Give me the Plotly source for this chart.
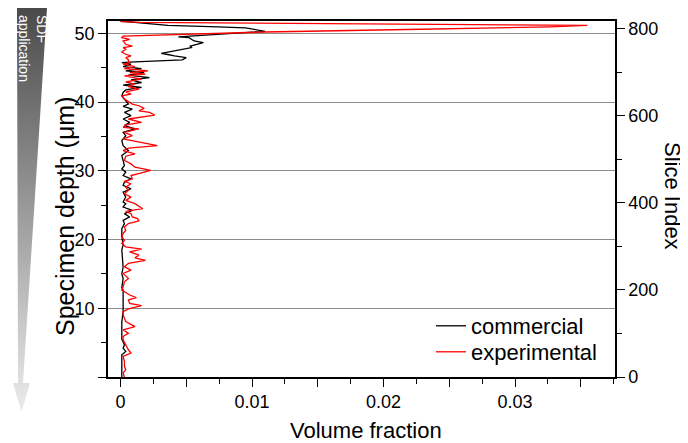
import plotly.graph_objects as go

W, H = 688, 443
OFF = 8  # the page places the figure 8 px from the window's top-left corner
# plot-area edges in window pixels (left, right, top, bottom)
PL, PR, PT, PB = 108, 615, 21, 377

# ---------------- data ----------------
depth_commercial = [
    51.8, 51.15, 50.95, 50.8, 50.3, 49.5, 49.37, 48.89, 48.65, 48.41, 48.16, 47.92,
    47.44, 47.10, 46.96, 46.71, 46.47, 46.14, 45.85, 45.75, 45.51, 45.17, 44.88,
    44.54, 44.30, 43.91, 43.57, 43.24, 42.85, 42.46, 42.13, 41.79, 41.40, 40.92,
    40.43, 39.71, 39.37, 38.99, 38.50, 38.02, 37.54, 37.05, 36.57, 36.09, 35.60,
    35.12, 34.40, 33.67, 32.95, 32.22, 31.50, 30.77, 30.29, 29.81, 29.32, 28.84,
    28.36, 27.87, 27.39, 26.91, 26.18, 25.46, 25.22, 24.73, 24.25, 23.77, 23.29,
    22.80, 22.32, 21.59, 20.50, 19.18, 18.50, 16.00, 15.00, 14.35, 13.00, 12.66,
    10.72, 9.52, 8.00, 5.50, 4.69, 4.20, 3.72, 3.24, 2.00, 0.00,
]
vf_commercial = [
    0.0000, 0.0036, 0.0074, 0.0095, 0.0110, 0.0044, 0.0052, 0.0056, 0.0063, 0.0058, 0.0053, 0.0054,
    0.0041, 0.0031, 0.0035, 0.0041, 0.0050, 0.0047, 0.0011, 0.0001, 0.0008, 0.0002, 0.0016,
    0.0004, 0.0018, 0.0006, 0.0022, 0.0008, 0.0016, 0.0002, 0.0016, 0.0004, 0.0002, 0.0001,
    0.0003, 0.0006, 0.0002, 0.0009, 0.0003, 0.0008, 0.0002, 0.0007, 0.0003, 0.0011, 0.0002,
    0.0004, 0.0001, 0.0002, 0.0006, 0.0001, 0.0002, 0.0003, 0.0001, 0.0004, 0.0002, 0.0008,
    0.0003, 0.0002, 0.0008, 0.0002, 0.0004, 0.0002, 0.0004, 0.0002, 0.0009, 0.0003, 0.0007,
    0.0002, 0.0003, 0.0001, 0.0001, 0.0002, 0.0001, 0.0002, 0.0001, 0.0002, 0.0001, 0.0002,
    0.0002, 0.0002, 0.0001, 0.0001, 0.0003, 0.0002, 0.0004, 0.0001, 0.0001, 0.0001,
]

depth_experimental = [
    51.7, 51.6, 51.15, 50.95, 50.6, 50.2, 49.6, 49.37, 49.13, 48.89, 48.41, 48.16,
    47.92, 47.68, 47.29, 46.96, 46.71, 46.47, 46.14, 45.85, 45.75, 45.51, 45.17,
    44.88, 44.54, 44.30, 44.06, 43.82, 43.33, 42.95, 42.61, 42.27, 41.88, 41.50,
    41.16, 40.92, 40.43, 39.71, 39.47, 39.08, 38.74, 38.50, 38.12, 37.92, 37.54,
    37.05, 36.67, 36.33, 36.09, 35.60, 35.12, 34.64, 34.16, 33.67, 33.29, 32.95,
    32.46, 32.13, 31.50, 31.01, 30.53, 30.05, 29.71, 29.32, 28.84, 28.45, 28.12,
    27.63, 27.15, 26.67, 26.18, 25.70, 25.22, 24.49, 24.11, 23.77, 23.29, 23.04,
    22.71, 22.32, 21.84, 21.35, 20.87, 20.39, 19.90, 19.42, 18.94, 18.60, 18.21,
    17.73, 17.34, 16.96, 16.52, 16.04, 15.56, 15.07, 14.35, 13.86, 13.14, 12.66,
    11.93, 11.55, 11.21, 10.72, 10.39, 9.90, 9.52, 9.03, 8.55, 8.07, 7.34, 6.86,
    6.38, 5.89, 5.41, 4.69, 3.96, 3.48, 3.00, 2.27, 1.55, 1.06, 0.58, 0.00,
]
vf_experimental = [
    0.0000, 0.0015, 0.0355, 0.0327, 0.0228, 0.0110, 0.0002, 0.0001, 0.0007, 0.0002, 0.0004, 0.0009,
    0.0002, 0.0004, 0.0001, 0.0004, 0.0008, 0.0004, 0.0006, 0.0006, 0.0007, 0.0002, 0.0011,
    0.0003, 0.0021, 0.0007, 0.0019, 0.0003, 0.0016, 0.0004, 0.0011, 0.0006, 0.0014, 0.0004,
    0.0008, 0.0001, 0.0003, 0.0009, 0.0014, 0.0018, 0.0014, 0.0022, 0.0026, 0.0018, 0.0006,
    0.0016, 0.0004, 0.0002, 0.0014, 0.0003, 0.0009, 0.0002, 0.0016, 0.0028, 0.0006, 0.0002,
    0.0011, 0.0004, 0.0003, 0.0008, 0.0011, 0.0023, 0.0016, 0.0008, 0.0009, 0.0003, 0.0008,
    0.0004, 0.0006, 0.0003, 0.0008, 0.0004, 0.0011, 0.0017, 0.0004, 0.0008, 0.0009, 0.0013,
    0.0014, 0.0006, 0.0003, 0.0004, 0.0002, 0.0001, 0.0003, 0.0001, 0.0004, 0.0016, 0.0007,
    0.0014, 0.0011, 0.0019, 0.0006, 0.0003, 0.0008, 0.0002, 0.0006, 0.0003, 0.0002, 0.0001,
    0.0007, 0.0012, 0.0006, 0.0007, 0.0016, 0.0006, 0.0002, 0.0002, 0.0003, 0.0004, 0.0011, 0.0002,
    0.0006, 0.0002, 0.0002, 0.0004, 0.0006, 0.0008, 0.0002, 0.0003, 0.0003, 0.0004, 0.0002, 0.0003,
]

series_names = ["commercial", "experimental"]
series_colors = ["#000000", "#ff0000"]

x_range = [-0.00095, 0.0376]
depth_range = [0, 51.8]
slice_range = [0, 818]
x_tick_vals = [0, 0.005, 0.01, 0.015, 0.02, 0.025, 0.03, 0.035]
x_tick_text = ["0", "", "0.01", "", "0.02", "", "0.03", ""]
depth_tick_vals = [0, 10, 20, 30, 40, 50]
depth_tick_text = ["", "10", "20", "30", "40", "50"]
slice_tick_vals = [0, 200, 400, 600, 800]
slice_tick_text = ["0", "200", "400", "600", "800"]

FONT = "Liberation Sans, Arial, Helvetica, sans-serif"


def px_x(px):
    return (px - OFF) / W


def px_y(py):
    return 1 - (py - OFF) / H


fig = go.Figure()

legend_ids = ["legend", "legend2"]
legend_tops = [305, 331]
for d, v, name, col, lg in [
    (depth_commercial, vf_commercial, series_names[0], series_colors[0], legend_ids[0]),
    (depth_experimental, vf_experimental, series_names[1], series_colors[1], legend_ids[1]),
]:
    fig.add_trace(go.Scatter(x=v, y=d, mode="lines", name=name,
                             line=dict(color=col, width=1.3),
                             xaxis="x", yaxis="y", legend=lg))

# empty trace so that the slice-index axis (y2) is drawn
fig.add_trace(go.Scatter(x=[], y=[], xaxis="x", yaxis="y2",
                         showlegend=False, hoverinfo="skip"))

# decorative "SDF application" gradient arrow (window-pixel frame)
arrow_x = [17, 47, 23, 30, 21.5, 13, 18, 17]
arrow_y = [8, 8, 383, 383, 412, 383, 383, 8]
fig.add_trace(go.Scatter(
    x=arrow_x, y=arrow_y, mode="lines", fill="toself",
    line=dict(width=0, color="rgba(0,0,0,0)"),
    fillgradient=dict(type="vertical", start=8, stop=412,
                      colorscale=[[0, "#4a4a4a"], [0.5, "#9a9a9a"], [1, "#ececec"]]),
    xaxis="x3", yaxis="y3", showlegend=False, hoverinfo="skip"))

axis_common = dict(showline=True, linecolor="black", linewidth=1.5,
                   ticks="outside", ticklen=8, tickwidth=1.3, tickcolor="black",
                   tickfont=dict(family=FONT, size=18, color="black"),
                   zeroline=False, automargin=False)

legend_common = dict(xanchor="left", yanchor="top", bgcolor="rgba(0,0,0,0)",
                     borderwidth=0, font=dict(family=FONT, size=22, color="black"))

fig.update_layout(
    width=W, height=H,
    autosize=False,
    margin=dict(l=0, r=0, t=0, b=0, pad=0, autoexpand=False),
    paper_bgcolor="white", plot_bgcolor="rgba(0,0,0,0)",
    font=dict(family=FONT, color="black"),
    xaxis=dict(domain=[px_x(PL), px_x(PR)], range=x_range, anchor="y",
               tickvals=x_tick_vals, ticktext=x_tick_text, mirror=True,
               showgrid=False,
               minor=dict(dtick=0.0025, tick0=0, ticks="outside", ticklen=5,
                          tickwidth=1.2, tickcolor="black", showgrid=False),
               **axis_common),
    yaxis=dict(domain=[px_y(PB), px_y(PT)], range=depth_range, anchor="x",
               tickvals=depth_tick_vals, ticktext=depth_tick_text,
               showgrid=True, gridcolor="#8c8c8c", gridwidth=1,
               minor=dict(dtick=5, tick0=0, ticks="outside", ticklen=5,
                          tickwidth=1.2, tickcolor="black", showgrid=False),
               **axis_common),
    yaxis2=dict(overlaying="y", side="right", anchor="x", range=slice_range,
                tickvals=slice_tick_vals, ticktext=slice_tick_text,
                showgrid=False,
                minor=dict(dtick=100, tick0=0, ticks="outside", ticklen=5,
                           tickwidth=1.2, tickcolor="black", showgrid=False),
                **axis_common),
    xaxis3=dict(domain=[0, 100 / W], range=[OFF, 100 + OFF], visible=False,
                anchor="y3", fixedrange=True),
    yaxis3=dict(domain=[0, 1], range=[H + OFF, OFF], visible=False,
                anchor="x3", fixedrange=True),
    showlegend=True,
    legend=dict(x=px_x(431), y=px_y(legend_tops[0]), **legend_common),
    legend2=dict(x=px_x(431), y=px_y(legend_tops[1]), **legend_common),
    annotations=[
        dict(text="Specimen depth (μm)", x=px_x(65), y=px_y(216), xref="paper", yref="paper",
             xanchor="center", yanchor="middle",
             showarrow=False, textangle=-90, font=dict(family=FONT, size=25, color="black")),
        dict(text="Volume fraction", x=px_x(366), y=px_y(430), xref="paper", yref="paper",
             xanchor="center", yanchor="middle",
             showarrow=False, font=dict(family=FONT, size=22, color="black")),
        dict(text="Slice Index", x=px_x(673), y=px_y(196), xref="paper", yref="paper",
             xanchor="center", yanchor="middle",
             showarrow=False, textangle=90, font=dict(family=FONT, size=22, color="black")),
        dict(text="SDF<br>application", x=px_x(33), y=px_y(48), xref="paper", yref="paper",
             xanchor="center", yanchor="middle",
             showarrow=False, textangle=90, align="left",
             font=dict(family=FONT, size=14, color="white")),
    ],
)

fig.write_html("out.html", config={"displayModeBar": False})
